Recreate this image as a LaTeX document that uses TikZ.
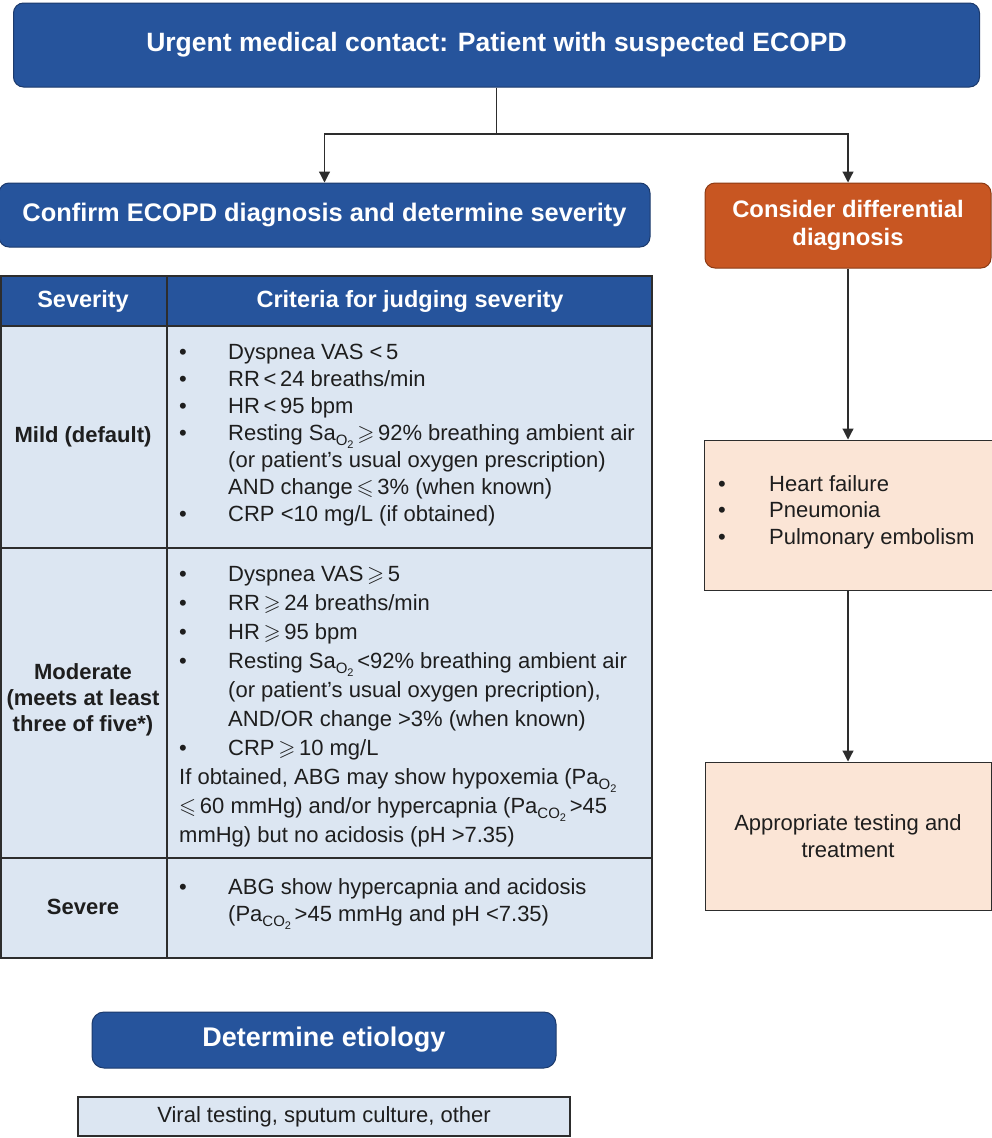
\documentclass[tikz,border=0pt]{standalone}
\usepackage{fontspec}
\setmainfont{Liberation Sans}
\usepackage{amssymb}
\usetikzlibrary{arrows.meta}
\definecolor{bluef}{RGB}{38,84,156}
\definecolor{blued}{RGB}{28,58,108}
\definecolor{orangef}{RGB}{200,86,34}
\definecolor{oranged}{RGB}{140,58,20}
\definecolor{lightblue}{RGB}{220,230,242}
\definecolor{peach}{RGB}{251,229,214}
\definecolor{linec}{RGB}{45,45,45}
\definecolor{textc}{RGB}{30,30,30}
\newcommand{\subO}{\raisebox{-5pt}{\fontsize{15}{15}\selectfont O\raisebox{-3pt}{\fontsize{11}{11}\selectfont 2}}}
\newcommand{\subCO}{\raisebox{-5pt}{\fontsize{15}{15}\selectfont CO\raisebox{-3pt}{\fontsize{11}{11}\selectfont 2}}}
\newcommand{\gsl}{\,$\geqslant$\,}
\newcommand{\lsl}{\,$\leqslant$\,}
\tikzset{
  bluebox/.style={draw=blued, fill=bluef, line width=1pt, rounded corners=10pt, text=white, inner sep=0pt, align=center},
  orbox/.style={draw=oranged, fill=orangef, line width=1pt, rounded corners=10pt, text=white, inner sep=0pt, align=center},
  peachbox/.style={draw=linec, fill=peach, line width=1pt, inner sep=0pt, align=center},
  arr/.style={draw=linec, line width=1.2pt, -{Triangle[length=11pt,width=11pt]}},
  conn/.style={draw=linec, line width=1.2pt},
  tabline/.style={draw=linec, line width=1.5pt},
  body/.style={inner sep=0pt, text=textc, font=\fontsize{22}{27}\selectfont},
  hdr/.style={inner sep=0pt, text=white, font=\bfseries\fontsize{23.5}{27}\selectfont},
  lbl/.style={inner sep=0pt, text=textc, align=center, font=\bfseries\fontsize{22}{26}\selectfont},
}
\begin{document}
\begin{tikzpicture}[x=1pt,y=-1pt]
\useasboundingbox (0,0) rectangle (992,1138);

% top box
\node[bluebox, minimum width=966pt, minimum height=84pt, font=\bfseries\fontsize{26.5}{30}\selectfont] (top) at (496.5,45) {Urgent medical contact: Patient with suspected ECOPD};

\node[bluebox, minimum width=651pt, minimum height=64pt, font=\bfseries\fontsize{25.4}{30}\selectfont] (confirm) at (324.5,215) {Confirm ECOPD diagnosis and determine severity};

\node[orbox, minimum width=286pt, minimum height=85pt, font=\bfseries\fontsize{23.8}{28}\selectfont] (consider) at (848,225.5) {Consider differential\\diagnosis};

\coordinate (split) at (496.5,134);
\draw[conn] (top.south) -- (split);
\draw[arr] (split) -| (confirm.north);
\draw[arr] (split) -| (consider.north);

% table
\fill[bluef] (1,276) rectangle (652,326);
\fill[lightblue] (1,326) rectangle (652,958);
\draw[tabline] (1,276) rectangle (652,958);
\draw[tabline] (167,276) -- (167,958);
\draw[tabline] (1,326) -- (652,326);
\draw[tabline] (1,548) -- (652,548);
\draw[tabline] (1,858) -- (652,858);

\node[hdr] (hsev) at (83,301) {Severity};
\node[hdr] (hcrit) at (410,301) {Criteria for judging severity};

\node[lbl] (mild) at (83,437) {Mild (default)};
\node[lbl] (moderate) at (83,700) {Moderate\\(meets at least\\three of five*)};
\node[lbl] (severe) at (83,907) {Severe};

\node[body, anchor=base west] (mildlist) at (179,359) {\begin{tabular}[t]{@{}p{49pt}@{}l@{}}
\textbullet & Dyspnea VAS <\,5\\
\textbullet & RR\,<\,24 breaths/min\\
\textbullet & HR\,<\,95 bpm\\
\textbullet & Resting Sa\subO\gsl 92\% breathing ambient air\\
 & (or patient’s usual oxygen prescription)\\
 & AND change\lsl 3\% (when known)\\
\textbullet & CRP <10 mg/L (if obtained)
\end{tabular}};

\node[body, anchor=base west, font=\fontsize{22}{29}\selectfont] (modlist) at (179,581) {\begin{tabular}[t]{@{}p{49pt}@{}l@{}}
\textbullet & Dyspnea VAS\gsl 5\\
\textbullet & RR\gsl 24 breaths/min\\
\textbullet & HR\gsl 95 bpm\\
\textbullet & Resting Sa\subO\,<92\% breathing ambient air\\
 & (or patient’s usual oxygen precription),\\
 & AND/OR change >3\% (when known)\\
\textbullet & CRP\gsl 10 mg/L\\
\multicolumn{2}{@{}l@{}}{If obtained, ABG may show hypoxemia (Pa\subO}\\
\multicolumn{2}{@{}l@{}}{$\leqslant$\,60 mmHg) and/or hypercapnia (Pa\subCO\,>45}\\
\multicolumn{2}{@{}l@{}}{mmHg) but no acidosis (pH >7.35)}
\end{tabular}};

\node[body, anchor=base west] (sevlist) at (179,894) {\begin{tabular}[t]{@{}p{49pt}@{}l@{}}
\textbullet & ABG show hypercapnia and acidosis\\
 & (Pa\subCO\,>45 mmHg and pH <7.35)
\end{tabular}};

% right column
\node[peachbox, minimum width=288pt, minimum height=150pt] (diff) at (848,515) {};
\node[body, anchor=base west, font=\fontsize{22}{26.5}\selectfont] (difflist) at (718,491) {\begin{tabular}[t]{@{}p{51pt}@{}l@{}}
\textbullet & Heart failure\\
\textbullet & Pneumonia\\
\textbullet & Pulmonary embolism
\end{tabular}};

\node[peachbox, minimum width=286pt, minimum height=148pt, font=\fontsize{22}{27}\selectfont, text=textc] (appr) at (848,836) {Appropriate testing and\\treatment};

\draw[arr] (consider.south) -- (diff.north);
\draw[arr] (diff.south) -- (appr.north);

% bottom
\node[bluebox, rounded corners=12pt, minimum width=464pt, minimum height=56pt, font=\bfseries\fontsize{27}{30}\selectfont] (etio) at (324,1040) {Determine etiology};
\node[draw=linec, fill=lightblue, line width=1.2pt, inner sep=0pt, minimum width=492pt, minimum height=39pt, text=textc, font=\fontsize{22}{26}\selectfont] (viral) at (324,1116.5) {Viral testing, sputum culture, other};
\end{tikzpicture}
\end{document}
